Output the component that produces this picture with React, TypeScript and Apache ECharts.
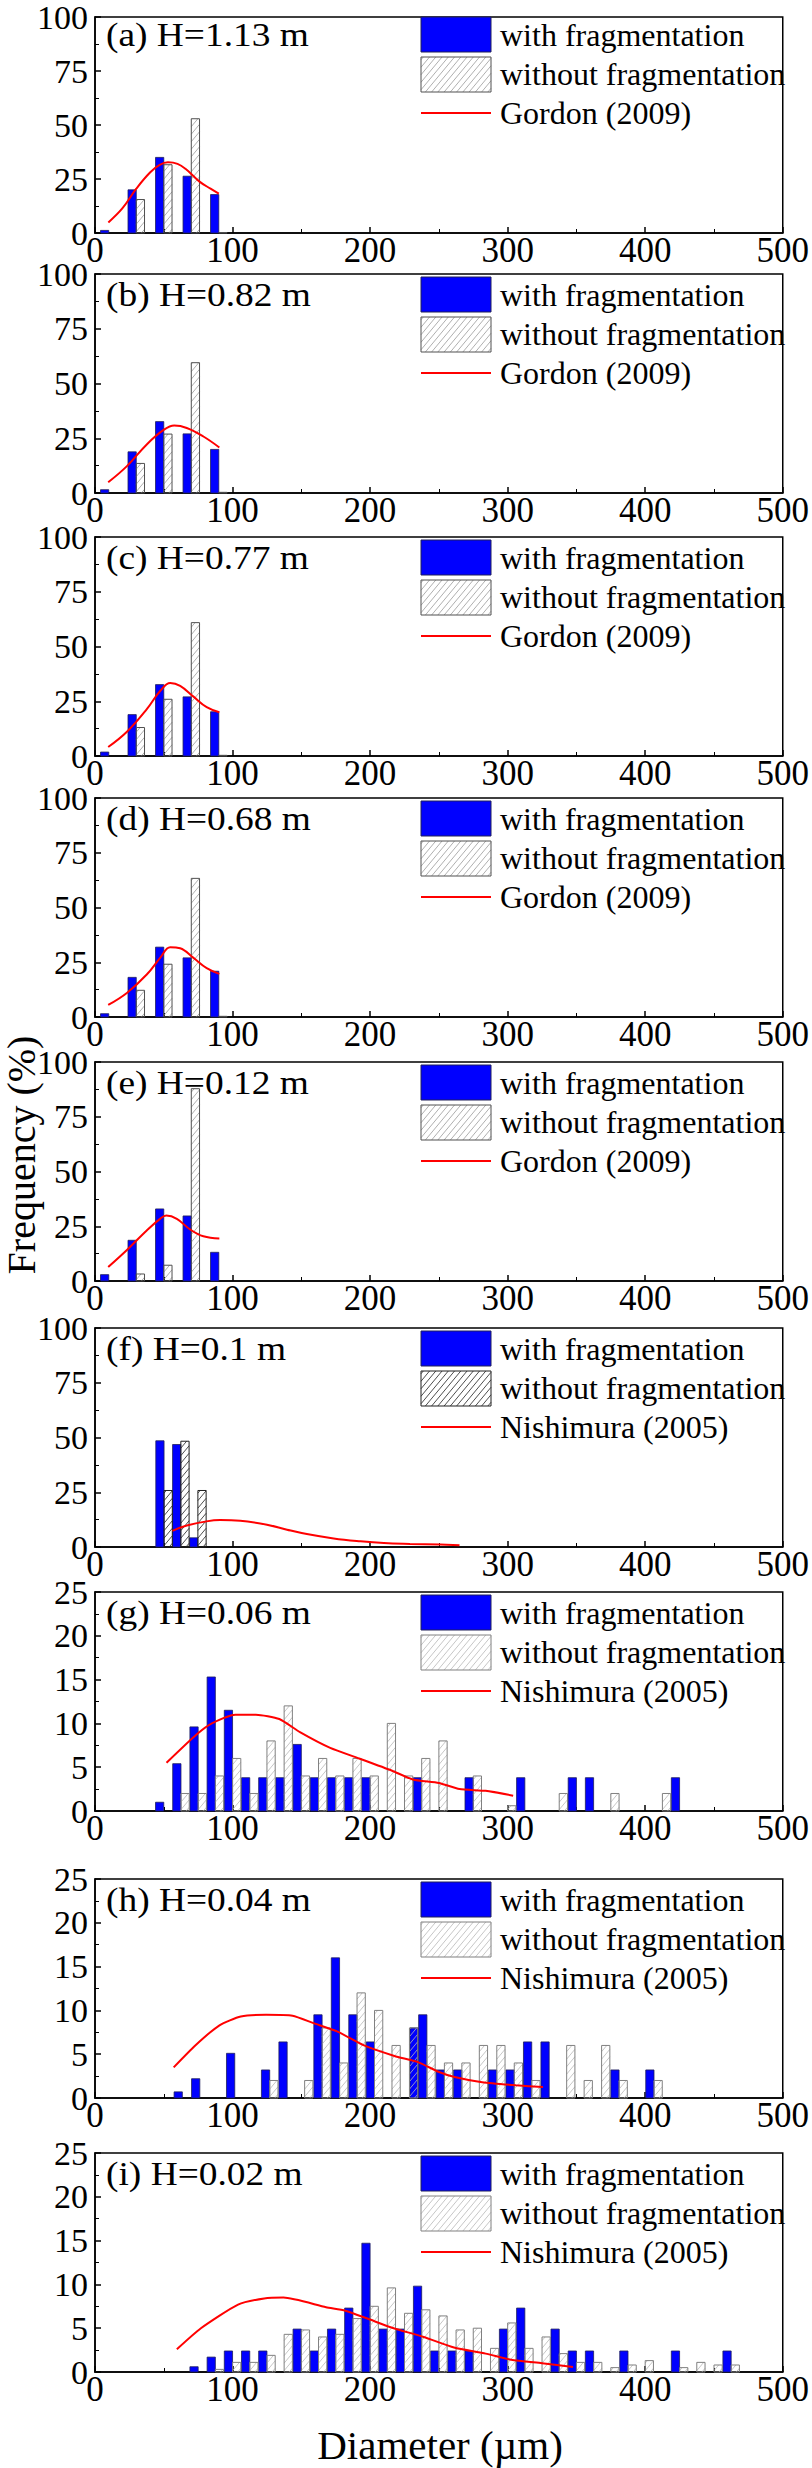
import React, { useEffect, useRef } from "react";
import * as echarts from "echarts";

const FONT = "'Liberation Serif', 'Times New Roman', serif";
const BLUE = "#0000ff";
const RED = "#ff0000";
const BAR_W = 6; // bar width in µm

// (a)-(e): bins at 10..90 µm, Gordon (2009)
const binsGordon = [10, 30, 50, 70, 90];
const aWithF = [1.2, 20, 35, 26.3, 17.8];
const aWithoutF = [0, 15.5, 31.6, 52.9, 0.2];
const aCurveD = [9.7, 20, 30, 40, 47, 53, 60, 66, 76, 84, 90];
const aCurveF = [4.9, 11.5, 20.5, 28, 31.5, 32.7, 32, 29.6, 23.8, 20.5, 18.2];

const bWithF = [1.5, 18.8, 32.6, 27, 19.9];
const bWithoutF = [0, 13.5, 26.9, 59.5, 0.3];
const bCurveD = [9.6, 23.4, 37.8, 49.9, 57.6, 66.7, 78.8, 90.4];
const bCurveF = [4.9, 12.4, 22.3, 28.8, 30.8, 29.7, 25.8, 20.8];

const cWithF = [1.8, 18.9, 32.6, 27, 20.2];
const cWithoutF = [0, 13, 25.9, 60.9, 0.3];
const cCurveD = [9.6, 23.4, 37.8, 47.5, 54.7, 61.9, 71.6, 81.2, 90.4];
const cCurveF = [4.1, 11.2, 21.5, 29.8, 33.3, 32, 27.1, 22.3, 20];

const dWithF = [1.5, 18.1, 31.9, 27, 20.9];
const dWithoutF = [0, 12.2, 24.1, 63.3, 0.3];
const dCurveD = [9.6, 23.4, 37.8, 47.5, 54.7, 61.9, 71.6, 81.2, 90.4];
const dCurveF = [5.5, 11.1, 19.5, 27.1, 31.9, 31.4, 27, 22.3, 19.7];

const eWithF = [2.9, 18.6, 32.9, 29.7, 13.1];
const eWithoutF = [0, 3.2, 7.2, 87.8, 0];
const eCurveD = [9.6, 23.4, 37.8, 47.5, 51.8, 59.5, 69.2, 78.8, 90.4];
const eCurveF = [6.4, 14.3, 23.2, 28.5, 29.9, 28.4, 23.5, 20.4, 19.4];

// (f): Nishimura (2005)
const binsF = [50.2, 62.4, 74.8];
const fWithF = [48.5, 46.8, 4.2];
const fWithoutF = [25.8, 48.3, 25.8];
const fCurveD = [56.3, 66.7, 81, 91, 105.6, 125, 139.6, 154, 173.5, 193, 210, 229, 251, 265];
const fCurveF = [7.4, 9.8, 11.7, 12.3, 12, 10.2, 7.9, 5.9, 3.9, 2.6, 1.8, 1.4, 1.1, 0.8];

// (g)
const gWithD = [50, 62.5, 75, 87.5, 100, 112.5, 125, 137.5, 150, 162.5, 175, 187.5, 200, 237.5, 275, 312.5, 350, 362.5, 425];
const gWithF = [1.0, 5.4, 9.6, 15.3, 11.5, 3.8, 3.8, 3.8, 7.6, 3.8, 3.8, 3.8, 3.8, 3.8, 3.8, 3.8, 3.8, 3.8, 3.8];
const gWithoutD = [62.5, 75, 87.5, 100, 112.5, 125, 137.5, 150, 162.5, 175, 187.5, 200, 212.5, 225, 237.5, 250, 275, 300, 337.5, 375, 412.5];
const gWithoutF = [2, 2, 4, 6, 2, 8, 12, 4, 6, 4, 6, 4, 10, 4, 6, 8, 4, 0.6, 2, 2, 2];
const gCurveD = [52, 74, 85, 102, 117, 134, 149, 171, 192, 216, 231, 250, 265, 284, 304];
const gCurveF = [5.5, 8.75, 10, 11, 11, 10.5, 9, 7.2, 6, 4.6, 3.6, 3.2, 2.5, 2.3, 1.75];

// (h)
const hWithD = [63.5, 76.2, 101.6, 127, 139.7, 165.1, 177.8, 190.5, 203.2, 235, 241.3, 254, 266.7, 292.1, 304.8, 317.5, 330.2, 381, 406.4];
const hWithF = [0.7, 2.2, 5.1, 3.2, 6.4, 9.5, 16, 9.5, 6.4, 8, 9.5, 3.2, 3.2, 3.2, 3.2, 6.4, 6.4, 3.2, 3.2];
const hWithoutD = [127, 152.4, 165.1, 177.8, 190.5, 203.2, 215.9, 228.6, 241.3, 254, 266.7, 279.4, 292.1, 304.8, 317.5, 342.9, 355.6, 368.3, 381, 406.4];
const hWithoutF = [2, 2, 8, 4, 12, 10, 6, 8, 6, 4, 4, 6, 6, 4, 2, 6, 2, 6, 2, 2];
const hCurveD = [57.2, 72.9, 90.5, 106, 124.4, 143.6, 158.8, 176, 195.6, 217.7, 234.8, 249.6, 261.4, 281.5, 306, 325.7];
const hCurveF = [3.5, 6.0, 8.3, 9.3, 9.5, 9.4, 8.55, 7.6, 6.0, 4.8, 4.1, 3.0, 2.4, 1.8, 1.45, 1.25];

// (i)
const iWithD = [75, 87.5, 100, 112.5, 125, 150, 162.5, 175, 187.5, 200, 212.5, 225, 237.5, 250, 262.5, 275, 300, 312.5, 337.5, 350, 362.5, 387.5, 425, 462.5];
const iWithF = [0.6, 1.7, 2.4, 2.4, 2.4, 4.9, 2.4, 4.9, 7.3, 14.7, 4.9, 4.9, 9.8, 2.4, 2.4, 2.4, 4.9, 7.3, 4.9, 2.4, 2.4, 2.4, 2.4, 2.4];
const iWithoutD = [87.5, 100, 112.5, 125, 137.5, 150, 162.5, 175, 187.5, 200, 212.5, 225, 237.5, 250, 262.5, 275, 287.5, 300, 312.5, 325, 337.5, 350, 362.5, 375, 387.5, 400, 425, 437.5, 450, 462.5];
const iWithoutF = [0.3, 1.1, 1.1, 1.9, 4.3, 4.8, 4.0, 4.3, 6.1, 7.5, 9.6, 6.7, 7.1, 6.4, 4.8, 5.0, 2.7, 5.6, 2.7, 4.0, 2.1, 1.1, 1.1, 0.5, 0.8, 1.3, 0.5, 1.1, 0.8, 0.8];
const iCurveD = [59.5, 77, 104, 123, 137, 168, 182, 198, 216, 239, 261, 284, 302.6, 325, 347.5];
const iCurveF = [2.6, 5, 7.7, 8.4, 8.5, 7.4, 7.0, 6.1, 5.05, 4.0, 2.8, 2.1, 1.4, 1.0, 0.57];

const xTicks = [0, 100, 200, 300, 400, 500];

const HATCH = {
  mid: { line: "#9a9a9a", edge: "#505050" },
  dark: { line: "#202020", edge: "#202020" },
  light: { line: "#b8b8b8", edge: "#808080" },
};

type Panel = {
  label: string;
  top: number;
  yMax: number;
  step: number;
  model: string;
  withD: number[];
  withF: number[];
  withoutD: number[];
  withoutF: number[];
  curveD: number[];
  curveF: number[];
  hatch: keyof typeof HATCH;
  smooth: number;
};

const GORDON = "Gordon (2009)";
const NISHI = "Nishimura (2005)";

const panels: Panel[] = [
  { label: "(a) H=1.13 m", top: 14, yMax: 100, step: 25, model: GORDON, withD: binsGordon, withF: aWithF, withoutD: binsGordon, withoutF: aWithoutF, curveD: aCurveD, curveF: aCurveF, hatch: "mid", smooth: 0.4 },
  { label: "(b) H=0.82 m", top: 274, yMax: 100, step: 25, model: GORDON, withD: binsGordon, withF: bWithF, withoutD: binsGordon, withoutF: bWithoutF, curveD: bCurveD, curveF: bCurveF, hatch: "mid", smooth: 0.4 },
  { label: "(c) H=0.77 m", top: 537, yMax: 100, step: 25, model: GORDON, withD: binsGordon, withF: cWithF, withoutD: binsGordon, withoutF: cWithoutF, curveD: cCurveD, curveF: cCurveF, hatch: "mid", smooth: 0.4 },
  { label: "(d) H=0.68 m", top: 798, yMax: 100, step: 25, model: GORDON, withD: binsGordon, withF: dWithF, withoutD: binsGordon, withoutF: dWithoutF, curveD: dCurveD, curveF: dCurveF, hatch: "mid", smooth: 0.4 },
  { label: "(e) H=0.12 m", top: 1062, yMax: 100, step: 25, model: GORDON, withD: binsGordon, withF: eWithF, withoutD: binsGordon, withoutF: eWithoutF, curveD: eCurveD, curveF: eCurveF, hatch: "mid", smooth: 0.4 },
  { label: "(f) H=0.1 m", top: 1328, yMax: 100, step: 25, model: NISHI, withD: binsF, withF: fWithF, withoutD: binsF, withoutF: fWithoutF, curveD: fCurveD, curveF: fCurveF, hatch: "dark", smooth: 0.4 },
  { label: "(g) H=0.06 m", top: 1592, yMax: 25, step: 5, model: NISHI, withD: gWithD, withF: gWithF, withoutD: gWithoutD, withoutF: gWithoutF, curveD: gCurveD, curveF: gCurveF, hatch: "light", smooth: 0.2 },
  { label: "(h) H=0.04 m", top: 1879, yMax: 25, step: 5, model: NISHI, withD: hWithD, withF: hWithF, withoutD: hWithoutD, withoutF: hWithoutF, curveD: hCurveD, curveF: hCurveF, hatch: "light", smooth: 0.2 },
  { label: "(i) H=0.02 m", top: 2153, yMax: 25, step: 5, model: NISHI, withD: iWithD, withF: iWithF, withoutD: iWithoutD, withoutF: iWithoutF, curveD: iCurveD, curveF: iCurveF, hatch: "light", smooth: 0.2 },
];

const GRID_LEFT = 95;
const GRID_W = 691;
const GRID_H = 219;

// diagonal "/" hatch lines clipped to a rectangle
const hatchLines = (x0: number, yTop: number, w: number, h: number, color: string) => {
  const gap = 7.5;
  const k = 1.2;
  const kw = k * w;
  const yB = yTop + h;
  const out: any[] = [];
  if (w <= 0 || h <= 0) return out;
  for (let c = -kw + gap / 2; c < h; c += gap) {
    const t0 = Math.max(0, -c / kw);
    const t1 = Math.min(1, (h - c) / kw);
    if (t1 <= t0) continue;
    out.push({
      type: "line",
      silent: true,
      shape: { x1: x0 + w * t0, y1: yB - c - kw * t0, x2: x0 + w * t1, y2: yB - c - kw * t1 },
      style: { stroke: color, lineWidth: 0.8 },
    });
  }
  return out;
};

const App = () => {
  const chartRef = useRef<HTMLDivElement>(null);

  useEffect(() => {
    document.body.style.margin = "0";
    if (!chartRef.current) return;
    const chart = echarts.init(chartRef.current, null, { renderer: "svg" });

    const grid: any[] = [];
    const xAxis: any[] = [];
    const yAxis: any[] = [];
    const series: any[] = [];
    const graphics: any[] = [];

    panels.forEach((p, i) => {
      grid.push({
        left: GRID_LEFT,
        top: p.top,
        width: GRID_W,
        height: GRID_H,
        show: true,
        borderColor: "#000",
        borderWidth: 1.5,
        backgroundColor: "transparent",
      });
      xAxis.push({
        gridIndex: i,
        type: "value",
        min: xTicks[0],
        max: xTicks[xTicks.length - 1],
        interval: 100,
        splitLine: { show: false },
        axisLine: { lineStyle: { color: "#000", width: 1.5 } },
        axisTick: { inside: true, length: 6, lineStyle: { color: "#000", width: 1.5 } },
        minorTick: { show: true, splitNumber: 2, length: 4, lineStyle: { color: "#000", width: 1 } },
        axisLabel: { color: "#000", fontFamily: FONT, fontSize: 35, margin: 0 },
      });
      yAxis.push({
        gridIndex: i,
        type: "value",
        min: 0,
        max: p.yMax,
        interval: p.step,
        splitLine: { show: false },
        axisLine: { lineStyle: { color: "#000", width: 1.5 } },
        axisTick: { inside: true, length: 6, lineStyle: { color: "#000", width: 1.5 } },
        minorTick: { show: true, splitNumber: 2, length: 4, lineStyle: { color: "#000", width: 1 } },
        axisLabel: { color: "#000", fontFamily: FONT, fontSize: 34, margin: 7 },
      });

      const hs = HATCH[p.hatch];

      series.push({
        type: "custom",
        name: "with fragmentation",
        xAxisIndex: i,
        yAxisIndex: i,
        z: 2,
        data: p.withD.map((d, j) => [d, p.withF[j]]).filter((v) => v[1] > 0),
        encode: { x: 0, y: 1 },
        renderItem: (_params: any, api: any) => {
          const d = api.value(0);
          const v = api.value(1);
          const p0 = api.coord([d - BAR_W, 0]);
          const p1 = api.coord([d, v]);
          return {
            type: "rect",
            shape: { x: p0[0], y: p1[1], width: p1[0] - p0[0], height: p0[1] - p1[1] },
            style: { fill: BLUE, stroke: "#20205a", lineWidth: 0.8 },
          };
        },
      });

      series.push({
        type: "custom",
        name: "without fragmentation",
        xAxisIndex: i,
        yAxisIndex: i,
        z: 3,
        data: p.withoutD.map((d, j) => [d, p.withoutF[j]]).filter((v) => v[1] > 0),
        encode: { x: 0, y: 1 },
        renderItem: (_params: any, api: any) => {
          const d = api.value(0);
          const v = api.value(1);
          const p0 = api.coord([d, 0]);
          const p1 = api.coord([d + BAR_W, v]);
          const x = p0[0];
          const y = p1[1];
          const w = p1[0] - p0[0];
          const h = p0[1] - p1[1];
          return {
            type: "group",
            children: [
              ...hatchLines(x, y, w, h, hs.line),
              {
                type: "rect",
                shape: { x, y, width: w, height: h },
                style: { fill: "none", stroke: hs.edge, lineWidth: 1 },
              },
            ],
          };
        },
      });

      series.push({
        type: "line",
        name: p.model,
        xAxisIndex: i,
        yAxisIndex: i,
        z: 4,
        data: p.curveD.map((d, j) => [d, p.curveF[j]]),
        smooth: p.smooth,
        showSymbol: false,
        symbol: "none",
        lineStyle: { color: RED, width: 2 },
      });

      // panel label
      graphics.push({
        type: "text",
        silent: true,
        x: 106,
        y: p.top + 21,
        scaleX: 1.1,
        style: {
          text: p.label,
          fill: "#000",
          font: `34px ${FONT}`,
          verticalAlign: "middle",
          textVerticalAlign: "middle",
        },
      });

      // legend
      const sx = 421;
      const sw = 70;
      graphics.push({
        type: "rect",
        silent: true,
        shape: { x: sx, y: p.top + 3, width: sw, height: 35 },
        style: { fill: BLUE, stroke: "#20205a", lineWidth: 1 },
      });
      graphics.push(...hatchLines(sx, p.top + 43, sw, 35, hs.line));
      graphics.push({
        type: "rect",
        silent: true,
        shape: { x: sx, y: p.top + 43, width: sw, height: 35 },
        style: { fill: "none", stroke: hs.edge, lineWidth: 1 },
      });
      graphics.push({
        type: "line",
        silent: true,
        shape: { x1: sx, y1: p.top + 99, x2: sx + sw, y2: p.top + 99 },
        style: { stroke: RED, lineWidth: 2 },
      });
      ["with fragmentation", "without fragmentation", p.model].forEach((t, k) => {
        graphics.push({
          type: "text",
          silent: true,
          x: 500,
          y: p.top + 21 + k * 39,
          style: {
            text: t,
            fill: "#000",
            font: `32px ${FONT}`,
            verticalAlign: "middle",
            textVerticalAlign: "middle",
          },
        });
      });
    });

    graphics.push({
      type: "text",
      silent: true,
      x: 21,
      y: 1155,
      rotation: Math.PI / 2,
      style: {
        text: "Frequency (%)",
        fill: "#000",
        font: `40px ${FONT}`,
        align: "center",
        textAlign: "center",
        verticalAlign: "middle",
        textVerticalAlign: "middle",
      },
    });
    graphics.push({
      type: "text",
      silent: true,
      x: 440,
      y: 2445,
      style: {
        text: "Diameter (µm)",
        fill: "#000",
        font: `41px ${FONT}`,
        align: "center",
        textAlign: "center",
        verticalAlign: "middle",
        textVerticalAlign: "middle",
      },
    });

    chart.setOption({
      animation: false,
      backgroundColor: "#fff",
      textStyle: { fontFamily: FONT },
      grid,
      xAxis,
      yAxis,
      series,
      graphic: { elements: graphics },
    });

    return () => {
      chart.dispose();
    };
  }, []);

  return (
    <div
      ref={chartRef}
      style={{ position: "absolute", left: 0, top: 0, width: "812px", height: "2468px" }}
    />
  );
};

export default App;
